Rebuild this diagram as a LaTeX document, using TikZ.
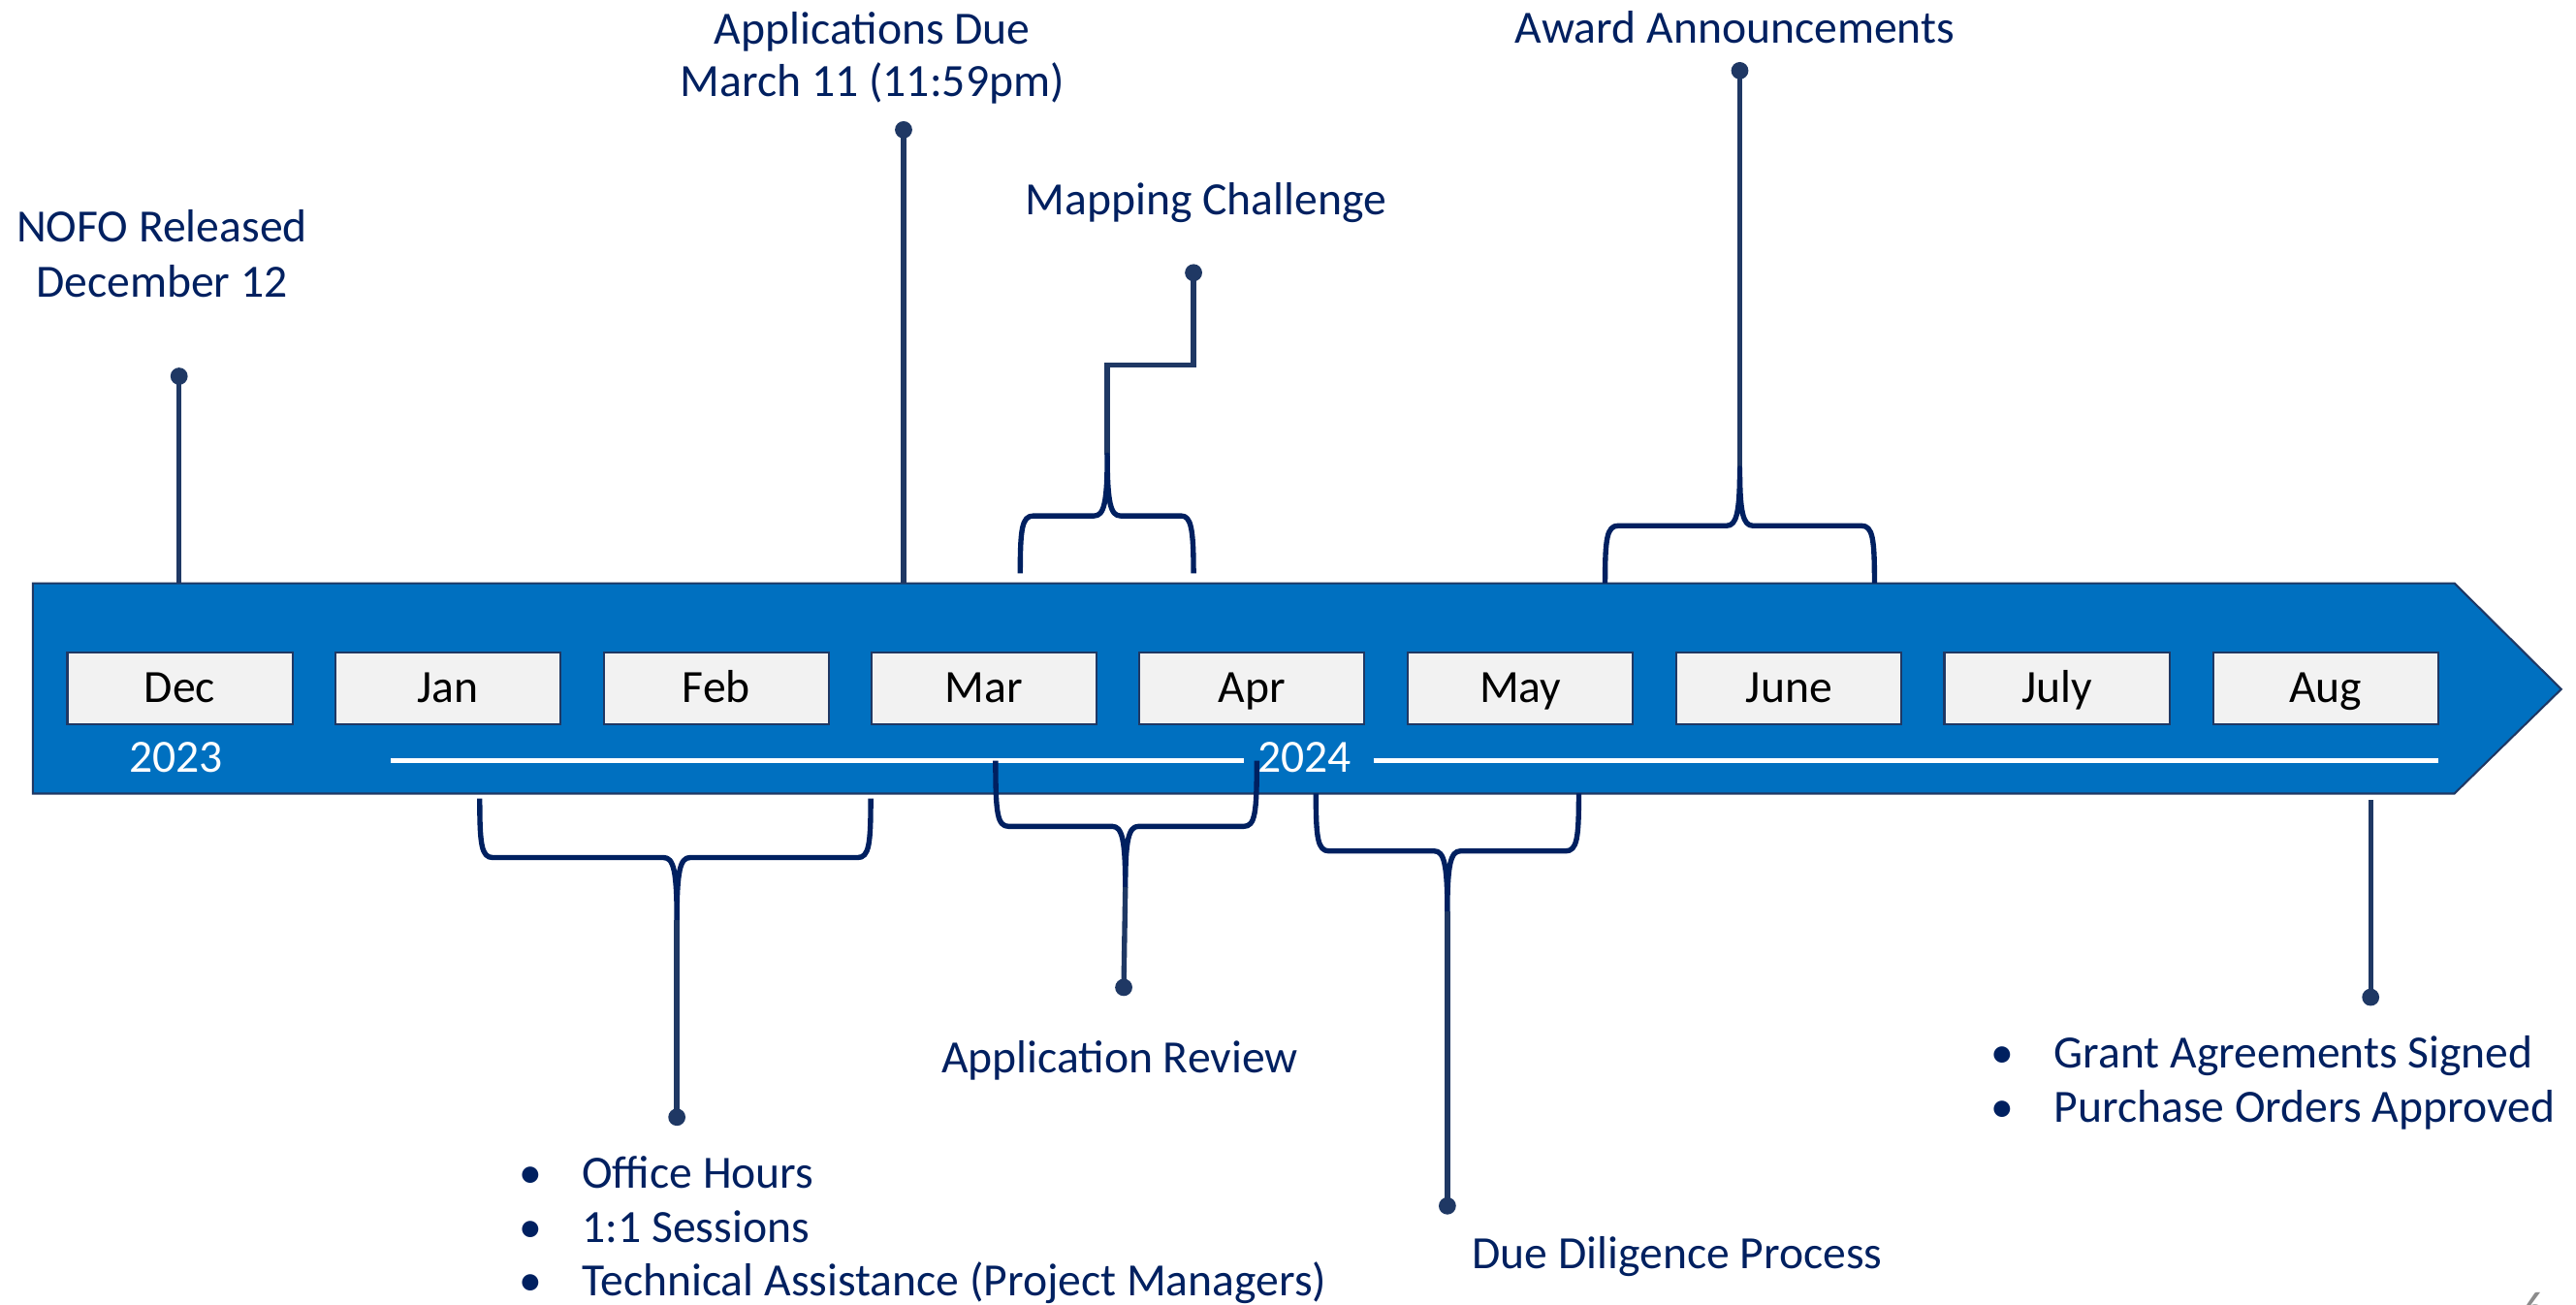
\documentclass[tikz,border=0pt]{standalone}
\usepackage{fontspec}
\setmainfont{Carlito}
\definecolor{barblue}{HTML}{0070C0}
\definecolor{navyline}{HTML}{1F3864}
\definecolor{navybrace}{HTML}{002060}
\definecolor{navytxt}{HTML}{002060}
\definecolor{boxfill}{HTML}{F2F2F2}
\definecolor{pagegray}{HTML}{8C8C8C}
\begin{document}
\begin{tikzpicture}[x=0.02cm,y=-0.02cm,
  every node/.style={font=\fontsize{16}{19}\selectfont},
  lbl/.style={text=navytxt, inner sep=0pt, anchor=base},
  lblw/.style={text=navytxt, inner sep=0pt, anchor=base west},
  bullet/.style={text=navytxt, inner sep=0pt, anchor=base},
  monthbox/.style={draw=navyline, line width=0.7pt, fill=boxfill, text=black,
    minimum width=2.74cm, minimum height=0.88cm, inner sep=0pt,
    text height=12pt, text depth=2pt},
  yearlbl/.style={text=white, inner sep=0pt, anchor=base},
  enddot/.style={circle, fill=navyline, inner sep=0pt, minimum size=0.21cm},
  conn/.style={draw=navyline, line width=1.8pt},
  bracepath/.style={draw=navybrace, line width=1.8pt, line join=round},
  yearline/.style={draw=white, line width=1.4pt}
]
\useasboundingbox (0,0) rectangle (1568,794);

% timeline arrow
\draw[fill=barblue, draw=navyline, line width=0.7pt]
  (20,355) -- (1494,355) -- (1559,419.5) -- (1494,483) -- (20,483) -- cycle;

% month boxes
\node[monthbox] (mdec) at (109.5,419) {Dec};
\node[monthbox] (mjan) at (272.5,419) {Jan};
\node[monthbox] (mfeb) at (436,419) {Feb};
\node[monthbox] (mmar) at (599,419) {Mar};
\node[monthbox] (mapr) at (762,419) {Apr};
\node[monthbox] (mmay) at (925.5,419) {May};
\node[monthbox] (mjun) at (1089,419) {June};
\node[monthbox] (mjul) at (1252,419) {July};
\node[monthbox] (maug) at (1415.5,419) {Aug};

% years
\node[yearlbl] (y2023) at (107,470) {2023};
\node[yearlbl] (y2024) at (794,470) {2024};
\coordinate (ylA) at (238,463);
\coordinate (ylB) at (757,463);
\coordinate (ylC) at (836,463);
\coordinate (ylD) at (1484,463);
\draw[yearline] (ylA) -- (ylB);
\draw[yearline] (ylC) -- (ylD);

% ---- milestones above the bar ----
% NOFO released
\node[lbl] (tnofoA) at (98.5,147) {NOFO Released};
\node[lbl] (tnofoB) at (98.5,181) {December 12};
\node[enddot] (dnofo) at (109,229) {};
\coordinate (fnofo) at (109,355);
\draw[conn] (dnofo.center) -- (fnofo);

% applications due
\node[lbl] (tdueA) at (531,27) {Applications Due};
\node[lbl] (tdueB) at (531,59) {March 11 (11:59pm)};
\node[enddot] (ddue) at (550,79) {};
\coordinate (fdue) at (550,355);
\draw[conn] (ddue.center) -- (fdue);

% mapping challenge
\node[lbl] (tmap) at (734,131) {Mapping Challenge};
\node[enddot] (dmap) at (726.5,166) {};
\coordinate (kmapA) at (726.5,222);
\coordinate (kmapB) at (674,222);
\coordinate (tipmap) at (674,277);
\draw[conn, line join=miter] (dmap.center) -- (kmapA) -- (kmapB) -- (tipmap);
\draw[bracepath] (621,349) .. controls (621,322) and (622,314) .. (629,314)
  -- (666,314) .. controls (672,314) and (674,306) .. (tipmap)
  .. controls (674,306) and (676,314) .. (682,314)
  -- (719,314) .. controls (725,314) and (726.5,322) .. (726.5,349);

% award announcements
\node[lbl] (taward) at (1056,26) {Award Announcements};
\node[enddot] (daward) at (1059,43) {};
\coordinate (tipaward) at (1059,285);
\draw[conn] (daward.center) -- (tipaward);
\draw[bracepath] (977,355) .. controls (977,328) and (978,320) .. (985,320)
  -- (1051,320) .. controls (1057,320) and (1059,312) .. (tipaward)
  .. controls (1059,312) and (1061,320) .. (1067,320)
  -- (1133,320) .. controls (1140,320) and (1141,328) .. (1141,355);

% ---- milestones below the bar ----
% outreach period
\coordinate (tipout) at (412,560);
\draw[bracepath] (292,486) .. controls (292,514) and (293,522) .. (300,522)
  -- (404,522) .. controls (410,522) and (412,530) .. (tipout)
  .. controls (412,530) and (414,522) .. (420,522)
  -- (522,522) .. controls (529,522) and (530,514) .. (530,486);
\node[enddot] (dout) at (412,680) {};
\draw[conn] (tipout) -- (dout.center);
\node[bullet] (bo1) at (323,723) {•};
\node[lblw] (to1) at (354,723) {Office Hours};
\node[bullet] (bo2) at (323,756) {•};
\node[lblw] (to2) at (354,756) {1:1 Sessions};
\node[bullet] (bo3) at (323,789) {•};
\node[lblw] (to3) at (354,789) {Technical Assistance (Project Managers)};

% application review
\coordinate (tiprev) at (685,540);
\draw[bracepath] (606,463) .. controls (606,495) and (607,503) .. (614,503)
  -- (677,503) .. controls (683,503) and (685,511) .. (tiprev)
  .. controls (685,511) and (687,503) .. (693,503)
  -- (757,503) .. controls (764,503) and (765,495) .. (765,463);
\node[enddot] (drev) at (684,601) {};
\draw[conn] (tiprev) -- (drev.center);
\node[lbl] (trev) at (681.5,653) {Application Review};

% due diligence
\coordinate (tipdd) at (881,555);
\draw[bracepath] (801,483) .. controls (801,510) and (802,518) .. (809,518)
  -- (873,518) .. controls (879,518) and (881,526) .. (tipdd)
  .. controls (881,526) and (883,518) .. (889,518)
  -- (953,518) .. controls (960,518) and (961,510) .. (961,483);
\node[enddot] (ddd) at (881,734) {};
\draw[conn] (tipdd) -- (ddd.center);
\node[lbl] (tdd) at (1021,772) {Due Diligence Process};

% agreements
\coordinate (fagr) at (1443,487);
\node[enddot] (dagr) at (1443,607) {};
\draw[conn] (fagr) -- (dagr.center);
\node[bullet] (ba1) at (1219,650) {•};
\node[lblw] (ta1) at (1250,650) {Grant Agreements Signed};
\node[bullet] (ba2) at (1219,683) {•};
\node[lblw] (ta2) at (1250,683) {Purchase Orders Approved};

% slide number
\node[text=pagegray, inner sep=0pt, anchor=base west] (pgno) at (1535,806) {6};
\end{tikzpicture}
\end{document}
